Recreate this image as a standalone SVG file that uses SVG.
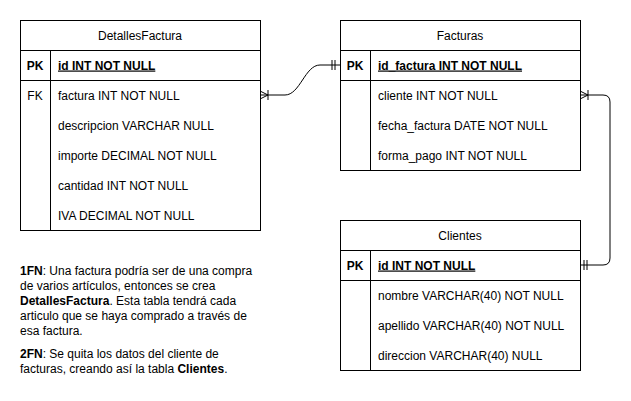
<svg xmlns="http://www.w3.org/2000/svg" width="631" height="401" viewBox="0 0 631 401">
<style>
.box{fill:#fff;stroke:#000;stroke-width:1}
.ln{stroke:#000;stroke-width:1;fill:none}
.t{font-family:"Liberation Sans",Arial,sans-serif;font-size:12px;fill:#000}
.h{text-anchor:middle}
.b{font-weight:bold}
.u{text-decoration:underline}
</style>
<rect width="631" height="401" fill="#fff"/>
<g id="connectors">
<path class="ln" d="M260 95 L285 95 C300 95 305 65 320 65 L340 65"/>
<path class="ln" d="M260 91 L268 95 L260 99 M268 90 L268 100"/>
<path class="ln" d="M332 60 L332 70 M335 60 L335 70"/>
<path class="ln" d="M580 95 L603 95 Q610 95 610 102 L610 258 Q610 265 603 265 L580 265"/>
<path class="ln" d="M580 91 L588 95 L580 99 M588 90 L588 100"/>
<path class="ln" d="M584 260 L584 270 M587 260 L587 270"/>
</g>
<g id="DetallesFactura">
<rect class="box" x="20.5" y="20.5" width="240" height="210"/>
<path class="ln" d="M20.5 50.5 H260.5 M20.5 80.5 H260.5 M50.5 50.5 V230.5"/>
<text class="t h" x="140" y="39.5">DetallesFactura</text>
<text class="t h b" x="35" y="69.5">PK</text>
<text class="t b u" x="58" y="69.5">id INT NOT NULL</text>
<text class="t h" x="35" y="99.5">FK</text>
<text class="t" x="58" y="99.5">factura INT NOT NULL</text>
<text class="t" x="58" y="129.5">descripcion VARCHAR NULL</text>
<text class="t" x="58" y="159.5">importe DECIMAL NOT NULL</text>
<text class="t" x="58" y="189.5">cantidad INT NOT NULL</text>
<text class="t" x="58" y="219.5">IVA DECIMAL NOT NULL</text>
</g>
<g id="Facturas">
<rect class="box" x="340.5" y="20.5" width="240" height="150"/>
<path class="ln" d="M340.5 50.5 H580.5 M340.5 80.5 H580.5 M370.5 50.5 V170.5"/>
<text class="t h" x="460" y="39.5">Facturas</text>
<text class="t h b" x="355" y="69.5">PK</text>
<text class="t b u" x="378" y="69.5">id_factura INT NOT NULL</text>
<text class="t" x="378" y="99.5">cliente INT NOT NULL</text>
<text class="t" x="378" y="129.5">fecha_factura DATE NOT NULL</text>
<text class="t" x="378" y="159.5">forma_pago INT NOT NULL</text>
</g>
<g id="Clientes">
<rect class="box" x="340.5" y="220.5" width="240" height="150"/>
<path class="ln" d="M340.5 250.5 H580.5 M340.5 280.5 H580.5 M370.5 250.5 V370.5"/>
<text class="t h" x="460" y="239.5">Clientes</text>
<text class="t h b" x="355" y="269.5">PK</text>
<text class="t b u" x="378" y="269.5">id INT NOT NULL</text>
<text class="t" x="378" y="299.5">nombre VARCHAR(40) NOT NULL</text>
<text class="t" x="378" y="329.5">apellido VARCHAR(40) NOT NULL</text>
<text class="t" x="378" y="359.5">direccion VARCHAR(40) NULL</text>
</g>
<g id="notes">
<text class="t" x="20" y="275"><tspan class="b">1FN</tspan>: Una factura podría ser de una compra</text>
<text class="t" x="20" y="290">de varios artículos, entonces se crea</text>
<text class="t" x="20" y="305"><tspan class="b">DetallesFactura</tspan>. Esta tabla tendrá cada</text>
<text class="t" x="20" y="320">articulo que se haya comprado a través de</text>
<text class="t" x="20" y="335">esa factura.</text>
<text class="t" x="20" y="358"><tspan class="b">2FN</tspan>: Se quita los datos del cliente de</text>
<text class="t" x="20" y="373">facturas, creando así la tabla <tspan class="b">Clientes</tspan>.</text>
</g>
</svg>
